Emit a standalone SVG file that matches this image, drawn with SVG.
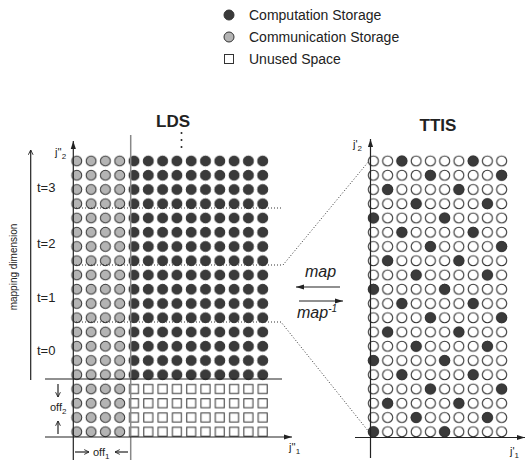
<svg xmlns="http://www.w3.org/2000/svg" width="526" height="462" viewBox="0 0 526 462">
<style>
text{font-family:"Liberation Sans",Arial,sans-serif;fill:#222}
.lg{font-size:14px}
.ttl{font-size:17px;font-weight:bold}
.ax{font-size:11px}
.sub{font-size:8px}
.tl{font-size:13px}
.mp{font-size:16px;font-style:italic}
.ln{stroke:#222;stroke-width:1.2;fill:none}
.dot{stroke:#333;stroke-width:1;stroke-dasharray:1,2;fill:none}
.cd{fill:#3a3a3a;stroke:#333;stroke-width:1}
.cg{fill:#b4b4b4;stroke:#333;stroke-width:1}
.cw{fill:#fff;stroke:#333;stroke-width:1.1}
.sq{fill:#fff;stroke:#333;stroke-width:1}
</style>
<defs>
<marker id="ah" viewBox="0 0 10 10" refX="10" refY="5" markerWidth="8" markerHeight="8" markerUnits="userSpaceOnUse" orient="auto"><path d="M0,1.8 L10,5 L0,8.2 z" fill="#222"/></marker>
<marker id="oa" viewBox="0 0 10 10" refX="9" refY="5" markerWidth="6" markerHeight="6" markerUnits="userSpaceOnUse" orient="auto"><path d="M1,1 L9,5 L1,9" fill="none" stroke="#222" stroke-width="1.5"/></marker>
<pattern id="pGray" patternUnits="userSpaceOnUse" x="69.65" y="153.875" width="14.3" height="14.25"><circle cx="7.15" cy="7.125" r="5" class="cg"/></pattern>
<pattern id="pDark" patternUnits="userSpaceOnUse" x="126.85" y="153.875" width="14.3" height="14.25"><circle cx="7.15" cy="7.125" r="5" class="cd"/></pattern>
<pattern id="pSq" patternUnits="userSpaceOnUse" x="126.85" y="153.875" width="14.3" height="14.25"><rect x="2.65" y="2.625" width="9" height="9" class="sq"/></pattern>
<pattern id="pWhite" patternUnits="userSpaceOnUse" x="366.275" y="153.875" width="14.25" height="14.25"><circle cx="7.125" cy="7.125" r="5" class="cw"/></pattern>
<circle id="dk" r="5" class="cd"/>
</defs>

<g id="legend">
<circle cx="229" cy="15" r="5" class="cd"/>
<text x="249" y="20" class="lg">Computation Storage</text>
<circle cx="229" cy="37" r="5" class="cg"/>
<text x="249" y="42" class="lg">Communication Storage</text>
<rect x="224.5" y="54.5" width="9" height="9" class="sq"/>
<text x="249" y="64" class="lg">Unused Space</text>
</g>

<g id="lds">
<text x="173" y="127" text-anchor="middle" class="ttl">LDS</text>
<circle cx="181.5" cy="133" r="1" fill="#222"/>
<circle cx="181.5" cy="140" r="1" fill="#222"/>
<circle cx="181.5" cy="147" r="1" fill="#222"/>
<rect x="69.65" y="153.875" width="57.2" height="285" fill="url(#pGray)"/>
<rect x="126.85" y="153.875" width="143" height="228" fill="url(#pDark)"/>
<rect x="126.85" y="381.875" width="143" height="57" fill="url(#pSq)"/>
<line x1="130.7" y1="135" x2="130.7" y2="460" stroke="#888" stroke-width="1.5"/>
<line x1="73.3" y1="460" x2="73.3" y2="141" class="ln" marker-end="url(#ah)"/>
<line x1="45" y1="379" x2="282" y2="379" class="ln"/>
<line x1="45" y1="437" x2="292" y2="437" class="ln" marker-end="url(#ah)"/>
<text x="55" y="156" class="ax">j''<tspan dy="3" class="sub">2</tspan></text>
<text x="289" y="451" class="ax">j''<tspan dy="3" class="sub">1</tspan></text>
</g>

<g id="lds-labels">
<line x1="30.7" y1="380" x2="30.7" y2="150" class="ln" marker-end="url(#oa)"/>
<text transform="translate(17,267) rotate(-90)" text-anchor="middle" font-size="10">mapping dimension</text>
<text x="37" y="192" class="tl">t=3</text>
<text x="37" y="248" class="tl">t=2</text>
<text x="37" y="302" class="tl">t=1</text>
<text x="37" y="355" class="tl">t=0</text>
<line x1="58" y1="384" x2="58" y2="397" class="ln" marker-end="url(#oa)"/>
<text x="50" y="411" class="ax">off<tspan dy="3" class="sub">2</tspan></text>
<line x1="58" y1="434" x2="58" y2="421" class="ln" marker-end="url(#oa)"/>
<line x1="75" y1="452" x2="89" y2="452" class="ln" marker-end="url(#oa)"/>
<text x="93" y="456" class="ax">off<tspan dy="3" class="sub">1</tspan></text>
<line x1="128" y1="452" x2="115" y2="452" class="ln" marker-end="url(#oa)"/>
</g>

<g id="ttis">
<text x="438" y="131" text-anchor="middle" class="ttl">TTIS</text>
<rect x="366.275" y="153.875" width="142.5" height="285" fill="url(#pWhite)"/>
<g>
<use href="#dk" x="401.9" y="161"/><use href="#dk" x="473.15" y="161"/>
<use href="#dk" x="430.4" y="175.25"/><use href="#dk" x="501.65" y="175.25"/>
<use href="#dk" x="387.65" y="189.5"/><use href="#dk" x="458.9" y="189.5"/>
<use href="#dk" x="416.15" y="203.75"/><use href="#dk" x="487.4" y="203.75"/>
<use href="#dk" x="373.4" y="218"/><use href="#dk" x="444.65" y="218"/>
<use href="#dk" x="401.9" y="232.25"/><use href="#dk" x="473.15" y="232.25"/>
<use href="#dk" x="430.4" y="246.5"/><use href="#dk" x="501.65" y="246.5"/>
<use href="#dk" x="387.65" y="260.75"/><use href="#dk" x="458.9" y="260.75"/>
<use href="#dk" x="416.15" y="275"/><use href="#dk" x="487.4" y="275"/>
<use href="#dk" x="373.4" y="289.25"/><use href="#dk" x="444.65" y="289.25"/>
<use href="#dk" x="401.9" y="303.5"/><use href="#dk" x="473.15" y="303.5"/>
<use href="#dk" x="430.4" y="317.75"/><use href="#dk" x="501.65" y="317.75"/>
<use href="#dk" x="387.65" y="332"/><use href="#dk" x="458.9" y="332"/>
<use href="#dk" x="416.15" y="346.25"/><use href="#dk" x="487.4" y="346.25"/>
<use href="#dk" x="373.4" y="360.5"/><use href="#dk" x="444.65" y="360.5"/>
<use href="#dk" x="401.9" y="374.75"/><use href="#dk" x="473.15" y="374.75"/>
<use href="#dk" x="430.4" y="389"/><use href="#dk" x="501.65" y="389"/>
<use href="#dk" x="387.65" y="403.25"/><use href="#dk" x="458.9" y="403.25"/>
<use href="#dk" x="416.15" y="417.5"/><use href="#dk" x="487.4" y="417.5"/>
<use href="#dk" x="373.4" y="431.75"/><use href="#dk" x="444.65" y="431.75"/>
</g>
<line x1="370.5" y1="458" x2="370.5" y2="139" class="ln" marker-end="url(#ah)"/>
<line x1="355" y1="437.5" x2="525" y2="437.5" class="ln" marker-end="url(#ah)"/>
<text x="353" y="148" class="ax">j'<tspan dy="3" class="sub">2</tspan></text>
<text x="510" y="455" class="ax">j'<tspan dy="3" class="sub">1</tspan></text>
</g>

<g id="connectors">
<polyline points="73,208 283,208" class="dot"/>
<polyline points="73,265 283,265 369,161" class="dot"/>
<polyline points="73,322 281,322 369,432" class="dot"/>
<line x1="340" y1="287" x2="296" y2="287" class="ln" marker-end="url(#ah)"/>
<line x1="299" y1="301" x2="343" y2="301" class="ln" marker-end="url(#ah)"/>
<text x="305" y="277" class="mp">map</text>
<text x="297" y="318" class="mp">map<tspan dy="-6" font-size="10">-1</tspan></text>
</g>
</svg>
